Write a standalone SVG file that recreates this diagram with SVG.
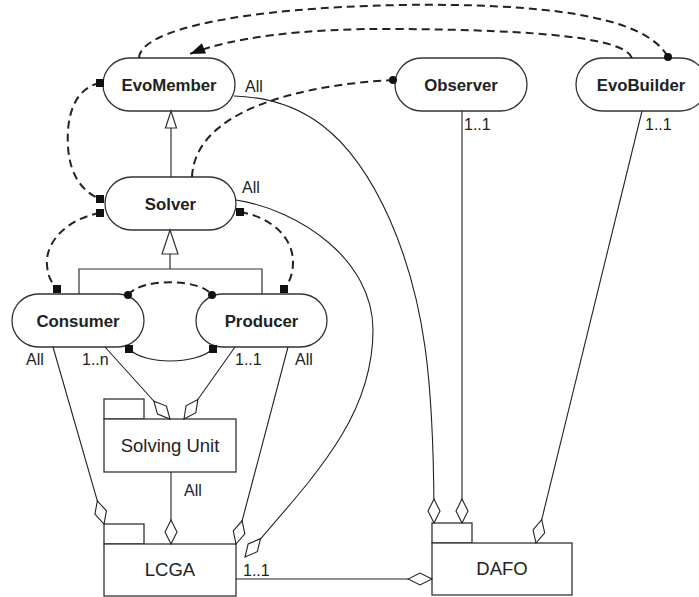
<svg xmlns="http://www.w3.org/2000/svg" width="699" height="597" viewBox="0 0 699 597">
  <style>
    .node rect { fill: #fff; stroke: #333; stroke-width: 1.3; }
    .node text { font-family: "Liberation Sans", Arial, sans-serif; font-weight: bold; font-size: 16.8px; fill: #222; text-anchor: middle; }
    .box rect { fill: #fff; stroke: #333; stroke-width: 1.3; }
    .box text { font-family: "Liberation Sans", Arial, sans-serif; font-size: 18.5px; fill: #222; text-anchor: middle; }
    .lbl { font-family: "Liberation Sans", Arial, sans-serif; font-size: 16px; fill: #222; }
    .solid { fill: none; stroke: #222; stroke-width: 1.1; }
    .dash { fill: none; stroke: #222; stroke-width: 2; stroke-dasharray: 8 5; }
    .gen { fill: none; stroke: #333; stroke-width: 1.2; }
    .tri { fill: #fff; stroke: #333; stroke-width: 1.2; }
  </style>
  <defs>
    <marker id="sq" viewBox="0 0 8 8" refX="4" refY="4" markerWidth="8" markerHeight="8" markerUnits="userSpaceOnUse">
      <rect x="0" y="0" width="8" height="8" fill="#111"/>
    </marker>
    <marker id="dot" viewBox="0 0 8 8" refX="4" refY="4" markerWidth="8" markerHeight="8" markerUnits="userSpaceOnUse">
      <circle cx="4" cy="4" r="4" fill="#111"/>
    </marker>
    <marker id="dia" viewBox="-25 -7 26 14" refX="0" refY="0" markerWidth="26" markerHeight="14" markerUnits="userSpaceOnUse" orient="auto">
      <path d="M0,0 L-12,-6 L-24,0 L-12,6 Z" fill="#fff" stroke="#222" stroke-width="1.1"/>
    </marker>
    <marker id="arr" viewBox="-16 -6 17 12" refX="0" refY="0" markerWidth="17" markerHeight="12" markerUnits="userSpaceOnUse" orient="auto">
      <path d="M0,0 L-15,-5.5 L-15,5.5 Z" fill="#111"/>
    </marker>
  </defs>

  <!-- role nodes -->
  <g id="evomember" class="node">
    <rect x="103" y="58" width="132" height="53" rx="26.5"/>
    <text x="169" y="91">EvoMember</text>
  </g>
  <g id="observer" class="node">
    <rect x="395" y="58" width="132" height="53" rx="26.5"/>
    <text x="461" y="91">Observer</text>
  </g>
  <g id="evobuilder" class="node">
    <rect x="576" y="58" width="131" height="53" rx="26.5"/>
    <text x="641" y="91">EvoBuilder</text>
  </g>
  <g id="solver" class="node">
    <rect x="105" y="177" width="131" height="53" rx="26.5"/>
    <text x="170.5" y="210">Solver</text>
  </g>
  <g id="consumer" class="node">
    <rect x="12" y="294" width="132" height="53" rx="26.5"/>
    <text x="78" y="327">Consumer</text>
  </g>
  <g id="producer" class="node">
    <rect x="196" y="294" width="131" height="53" rx="26.5"/>
    <text x="261.5" y="327">Producer</text>
  </g>

  <!-- packages -->
  <g id="solving-unit" class="box">
    <rect x="104" y="399" width="40" height="20"/>
    <rect x="104" y="419" width="132" height="53"/>
    <text x="170" y="452">Solving Unit</text>
  </g>
  <g id="lcga" class="box">
    <rect x="104" y="524" width="40" height="20"/>
    <rect x="104" y="544" width="132" height="52"/>
    <text x="170" y="576">LCGA</text>
  </g>
  <g id="dafo" class="box">
    <rect x="432" y="523" width="40" height="20"/>
    <rect x="432" y="543" width="140" height="52"/>
    <text x="502" y="575">DAFO</text>
  </g>

  <!-- connectors -->
  <g id="connectors">
    <!-- generalisation: Solver to EvoMember -->
    <line class="gen" x1="171" y1="177" x2="171" y2="128"/>
    <path class="tri" d="M171,111 L165.5,128 L176.5,128 Z"/>
    <!-- generalisation: Consumer / Producer to Solver -->
    <path class="gen" d="M170,254 L170,269 M79,294 L79,269 L262,269 L262,294"/>
    <path class="tri" d="M170,230 L162,254 L178,254 Z"/>

    <!-- dashed dependencies -->
    <path class="dash" d="M100,83 C75,88 66,115 68,147 C70,178 85,193 100,199" marker-start="url(#sq)" marker-end="url(#sq)"/>
    <path class="dash" d="M100,213 C70,218 45,240 47,265 C48,278 52,283 57,289" marker-start="url(#sq)" marker-end="url(#sq)"/>
    <path class="dash" d="M240,212 C275,218 293,240 293,262 C293,275 289,283 284,289" marker-start="url(#sq)" marker-end="url(#sq)"/>
    <path class="dash" d="M128,295 C140,278 200,278 212,295" marker-start="url(#dot)" marker-end="url(#dot)"/>
    <path class="dash" d="M192,177 C195,110 300,85 393,80" marker-end="url(#dot)"/>
    <path class="dash" d="M139,58 C140,30 240,8 400,5 C540,3 645,15 668,57" marker-end="url(#dot)"/>
    <path class="dash" d="M632,58 C625,38 540,30 400,29 C300,28 230,38 190,54" marker-end="url(#arr)"/>

    <!-- Consumer / Producer solid link -->
    <path class="solid" d="M129,349 C145,365 195,365 213,349" marker-start="url(#sq)" marker-end="url(#sq)"/>

    <!-- aggregations -->
    <path class="solid" d="M53,347 L104,524" marker-end="url(#dia)"/>
    <path class="solid" d="M105,347 L170,419" marker-end="url(#dia)"/>
    <path class="solid" d="M235,347 L184,419" marker-end="url(#dia)"/>
    <path class="solid" d="M288,347 L236,544" marker-end="url(#dia)"/>
    <path class="solid" d="M171,472 L171,544" marker-end="url(#dia)"/>
    <path class="solid" d="M236,200 C300,210 373,260 373,330 C373,420 310,480 245,557" marker-end="url(#dia)"/>
    <path class="solid" d="M234,96 C300,98 350,130 390,220 C425,300 434,380 434,523" marker-end="url(#dia)"/>
    <path class="solid" d="M462,111 L462,523" marker-end="url(#dia)"/>
    <path class="solid" d="M642,111 L536,543" marker-end="url(#dia)"/>
    <path class="solid" d="M236,579 L432,579" marker-end="url(#dia)"/>

    <!-- multiplicities -->
    <text class="lbl" x="245" y="92">All</text>
    <text class="lbl" x="242" y="193">All</text>
    <text class="lbl" x="464" y="130">1..1</text>
    <text class="lbl" x="645" y="130">1..1</text>
    <text class="lbl" x="26" y="365">All</text>
    <text class="lbl" x="82" y="365">1..n</text>
    <text class="lbl" x="235" y="365">1..1</text>
    <text class="lbl" x="295" y="365">All</text>
    <text class="lbl" x="184" y="496">All</text>
    <text class="lbl" x="243" y="576">1..1</text>
  </g>
</svg>
